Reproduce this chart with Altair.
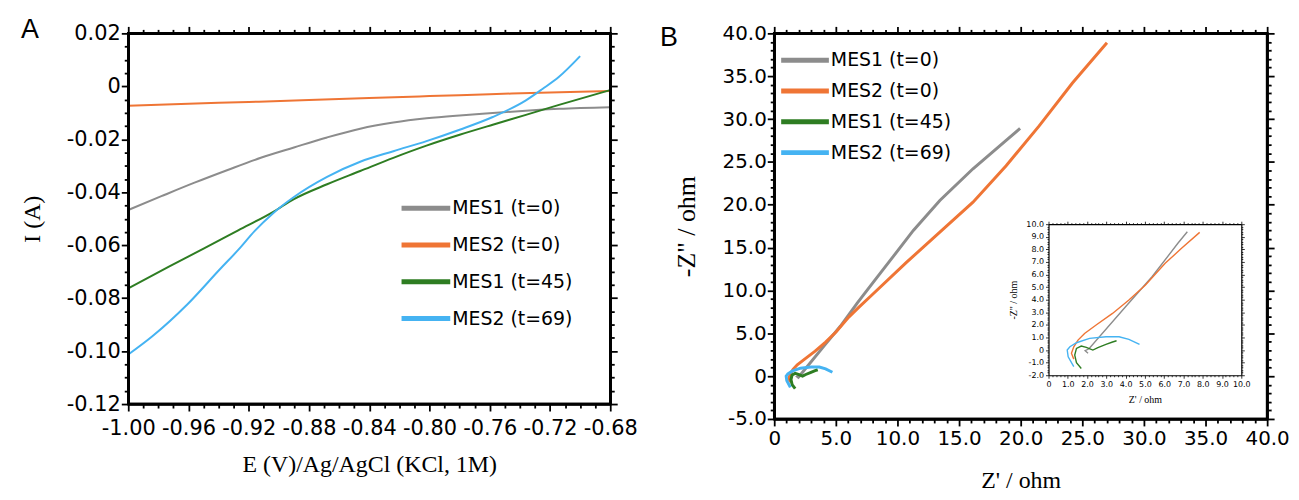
import altair as alt
import pandas as pd

SERIES = ["MES1 (t=0)", "MES2 (t=0)", "MES1 (t=45)", "MES2 (t=69)"]
COLORS = ["#8c8c8c", "#ef7535", "#2e7d22", "#45b3f2"]
PANEL_A_LABEL = ["A"]
PANEL_B_LABEL = ["B"]

# ---------- Panel A : current vs potential ----------
A_E_MES1_T0 = [-1.000, -0.978, -0.956, -0.934, -0.912, -0.890, -0.868, -0.846, -0.824, -0.802,
               -0.780, -0.758, -0.736, -0.714, -0.680]
A_I_MES1_T0 = [-0.0467, -0.0415, -0.0364, -0.0316, -0.0270, -0.0231, -0.0193, -0.0160, -0.0137, -0.0121,
               -0.0110, -0.0101, -0.0092, -0.0085, -0.0079]
A_E_MES2_T0 = [-1.00, -0.96, -0.92, -0.88, -0.84, -0.80, -0.76, -0.72, -0.68]
A_I_MES2_T0 = [-0.0073, -0.0066, -0.0059, -0.0052, -0.0044, -0.0037, -0.0030, -0.0023, -0.0018]
A_E_MES1_T45 = [-1.000, -0.973, -0.950, -0.927, -0.904, -0.890, -0.868, -0.846, -0.824, -0.802,
                -0.780, -0.758, -0.736, -0.714, -0.680]
A_I_MES1_T45 = [-0.0763, -0.0681, -0.0613, -0.0544, -0.0475, -0.0426, -0.0370, -0.0320, -0.0270, -0.0224,
                -0.0183, -0.0145, -0.0108, -0.0070, -0.0014]
A_E_MES2_T69 = [-1.000, -0.984, -0.961, -0.939, -0.927, -0.916, -0.904, -0.890, -0.868, -0.846,
                -0.824, -0.802, -0.780, -0.758, -0.736, -0.725, -0.714, -0.700]
A_I_MES2_T69 = [-0.1013, -0.0944, -0.0825, -0.0690, -0.0618, -0.0546, -0.0480, -0.0418, -0.0342, -0.0285,
                -0.0245, -0.0207, -0.0164, -0.0116, -0.0053, -0.0010, 0.0036, 0.0114]

# ---------- Panel B : Nyquist ----------
B_Z1_MES1_T0 = [2.05, 1.9, 2.1, 4.03, 5.38, 6.72, 7.2, 8.06, 9.68, 11.29, 13.44, 16.13, 18.82, 19.95]
B_Z2_MES1_T0 = [-0.25, -0.05, 0.1, 3.5, 5.84, 8.5, 9.4, 11.0, 14.0, 17.0, 20.5, 24.2, 27.5, 28.9]
B_Z1_MES2_T0 = [1.31, 1.19, 1.31, 1.53, 1.87, 2.47, 3.32, 4.17, 5.03, 6.05, 6.90, 7.84,
                10.75, 13.44, 16.13, 18.82, 21.5, 24.2, 27.0]
B_Z2_MES2_T0 = [-0.72, -0.26, 0.26, 0.79, 1.32, 1.99, 2.91, 3.97, 5.17, 6.89, 8.08, 9.35,
                13.3, 16.8, 20.3, 24.56, 29.2, 34.2, 38.9]
B_Z1_MES1_T45 = [1.70, 1.45, 1.36, 1.45, 1.70, 1.96, 2.30, 2.56, 2.98, 3.32, 3.53]
B_Z2_MES1_T45 = [-1.46, -1.0, -0.4, 0.13, 0.32, 0.21, 0.0, 0.19, 0.45, 0.64, 0.74]
B_Z1_MES2_T69 = [1.31, 1.02, 0.97, 1.11, 1.45, 2.13, 2.98, 3.66, 4.17, 4.72]
B_Z2_MES2_T69 = [-1.32, -0.53, 0.0, 0.26, 0.58, 0.93, 1.06, 1.06, 0.85, 0.45]

# ---------- tick positions ----------
A_X_MAJOR = [round(-1.00 + 0.04 * k, 2) for k in range(9)]
A_X_MINOR = [round(-1.00 + 0.01 * k, 2) for k in range(33) if k % 4]
A_Y_MAJOR = [round(-0.12 + 0.02 * k, 2) for k in range(8)]
A_Y_MINOR = [round(-0.12 + 0.005 * k, 3) for k in range(29) if k % 4]
B_X_MAJOR = [5 * k for k in range(9)]
B_X_MINOR = [k for k in range(41) if k % 5]
B_Y_MAJOR = [-5 + 5 * k for k in range(10)]
B_Y_MINOR = [k for k in range(-5, 41) if k % 5]
IN_X_MAJOR = list(range(11))
IN_X_MINOR = [round(0.2 * k, 1) for k in range(51) if k % 5]
IN_Y_MAJOR = list(range(-2, 11))
IN_Y_MINOR = [round(-2 + 0.2 * k, 1) for k in range(61) if k % 5]


def long_df(parts):
    rows = []
    for name, xs, ys in parts:
        for i, (x, y) in enumerate(zip(xs, ys)):
            rows.append({"series": name, "x": x, "y": y, "i": i})
    return pd.DataFrame(rows)


df_a = long_df([
    (SERIES[0], A_E_MES1_T0, A_I_MES1_T0),
    (SERIES[1], A_E_MES2_T0, A_I_MES2_T0),
    (SERIES[2], A_E_MES1_T45, A_I_MES1_T45),
    (SERIES[3], A_E_MES2_T69, A_I_MES2_T69),
])
df_b = long_df([
    (SERIES[0], B_Z1_MES1_T0, B_Z2_MES1_T0),
    (SERIES[1], B_Z1_MES2_T0, B_Z2_MES2_T0),
    (SERIES[2], B_Z1_MES1_T45, B_Z2_MES1_T45),
    (SERIES[3], B_Z1_MES2_T69, B_Z2_MES2_T69),
])
df_leg = pd.DataFrame({"series": SERIES})

SANS = "DejaVu Sans"
SERIF = "Liberation Serif"


def axis(orient, values, size, label_expr=None, font=20, offset=0, title=None,
         title_size=24, title_pad=10, label_pad=1, dw=2.5, tw=1.8, domain=True):
    kw = dict(
        orient=orient, values=values, ticks=True, tickSize=size,
        tickColor="#000000", tickWidth=tw, tickOpacity=1, domain=domain,
        domainColor="#000000", domainWidth=dw, domainOpacity=1, grid=False,
        offset=offset, zindex=2,
    )
    if label_expr is None:
        kw["labels"] = False
    else:
        kw.update(labelExpr=label_expr, labelFont=SANS, labelFontSize=font,
                  labelColor="black", labelPadding=label_pad, labelOverlap=False,
                  labelFlush=False, labelBound=False)
    if title is None:
        kw["title"] = None
    else:
        kw.update(title=title, titleFont=SERIF, titleFontSize=title_size,
                  titleFontWeight="normal", titleColor="black", titlePadding=title_pad)
    return alt.Axis(**kw)


def ghost(df, xs, ys, ax_x, ax_y, filt=None):
    c = alt.Chart(df).mark_line(strokeOpacity=0).encode(
        x=alt.X("x:Q", scale=xs, axis=ax_x),
        y=alt.Y("y:Q", scale=ys, axis=ax_y),
        detail="series:N",
    )
    if filt:
        c = c.transform_filter(filt)
    return c


def frame(w, h):
    return alt.Chart(pd.DataFrame({"f": [0]})).mark_rect(
        fillOpacity=0, stroke="black", strokeWidth=2.5
    ).encode(x=alt.value(0), x2=alt.value(w), y=alt.value(0), y2=alt.value(h))


color_scale = alt.Scale(domain=SERIES, range=COLORS)


def legend_layers(x0, length, y_first, y_last):
    ys = alt.Y("series:N", axis=None,
               scale=alt.Scale(type="point", domain=SERIES, range=[y_first, y_last], padding=0))
    rules = alt.Chart(df_leg).mark_rule(strokeWidth=5).encode(
        x=alt.value(x0), x2=alt.value(x0 + length), y=ys,
        color=alt.Color("series:N", scale=color_scale, legend=None),
    )
    texts = alt.Chart(df_leg).mark_text(
        align="left", baseline="middle", font=SANS, fontSize=19, color="black"
    ).encode(x=alt.value(x0 + length + 2), y=ys, text="series:N")
    return [rules, texts]


# ---------------- Panel A ----------------
WA, HA = 485, 373
xa = alt.Scale(domain=[-1.0, -0.68], nice=False, zero=False)
ya = alt.Scale(domain=[-0.12, 0.02], nice=False, zero=False)
lab_a_x = "(datum.value < 0 ? '-' : '') + format(abs(datum.value), '.2f')"
lab_a_y = ("abs(datum.value) < 1e-9 ? '0' : "
           "(datum.value < 0 ? '-' : '') + format(abs(datum.value), '.2f')")

a_lines = alt.Chart(df_a).mark_line(strokeWidth=2, interpolate="monotone").encode(
    x=alt.X("x:Q", scale=xa,
            axis=axis("bottom", A_X_MAJOR, 7, lab_a_x, font=21, label_pad=7,
                      title="E (V)/Ag/AgCl (KCl, 1M)", title_pad=14)),
    y=alt.Y("y:Q", scale=ya,
            axis=axis("left", A_Y_MAJOR, 7, lab_a_y, font=21, label_pad=1,
                      title="I (A)", title_pad=22)),
    color=alt.Color("series:N", scale=color_scale, legend=None),
    detail="series:N",
    order="i:Q",
)
a_g1 = ghost(df_a, xa, ya, axis("top", A_X_MAJOR, 7), axis("right", A_Y_MAJOR, 7))
a_g2 = ghost(df_a, xa, ya, axis("bottom", A_X_MINOR, 4, domain=False),
             axis("left", A_Y_MINOR, 4, domain=False))
a_g3 = ghost(df_a, xa, ya, axis("top", A_X_MINOR, 4, domain=False),
             axis("right", A_Y_MINOR, 4, domain=False))
a_letter = alt.Chart(pd.DataFrame({"t": PANEL_A_LABEL})).mark_text(
    font="Liberation Sans", fontSize=27, baseline="middle", align="center", color="black"
).encode(text="t:N", x=alt.value(-99), y=alt.value(-3))

panel_a = alt.layer(a_lines, a_g1, a_g2, a_g3, frame(WA, HA),
                    *legend_layers(275, 49, 176, 287), a_letter).resolve_scale(
    y="independent").resolve_axis(
    x="independent", y="independent").properties(width=WA, height=HA)

# ---------------- Panel B ----------------
WB, HB = 496, 388
xb = alt.Scale(domain=[0, 40], nice=False, zero=False)
yb = alt.Scale(domain=[-5, 40], nice=False, zero=False)
IN_L, IN_R, IN_T, IN_B = 276, 470, 192, 344
xi = alt.Scale(domain=[0, 10], nice=False, zero=False, range=[IN_L, IN_R])
yi = alt.Scale(domain=[-2, 10], nice=False, zero=False, range=[IN_B, IN_T])
lab_1f = ("datum.value == 0 ? '0' : "
          "(datum.value < 0 ? '-' : '') + format(abs(datum.value), '.1f')")
inset_filter = "datum.x <= 8 && datum.y <= 10"

b_lines = alt.Chart(df_b).mark_line(strokeWidth=3).encode(
    x=alt.X("x:Q", scale=xb,
            axis=axis("bottom", B_X_MAJOR, 7, lab_1f, font=20, label_pad=3,
                      title="Z' / ohm", title_pad=20)),
    y=alt.Y("y:Q", scale=yb,
            axis=axis("left", B_Y_MAJOR, 7, lab_1f, font=20, label_pad=1,
                      title='-Z" / ohm', title_size=26, title_pad=23)),
    color=alt.Color("series:N", scale=color_scale, legend=None),
    detail="series:N",
    order="i:Q",
)
b_g1 = ghost(df_b, xb, yb, axis("top", B_X_MAJOR, 7), axis("right", B_Y_MAJOR, 7))
b_g2 = ghost(df_b, xb, yb, axis("bottom", B_X_MINOR, 4, domain=False),
             axis("left", B_Y_MINOR, 4, domain=False))
b_g3 = ghost(df_b, xb, yb, axis("top", B_X_MINOR, 4, domain=False),
             axis("right", B_Y_MINOR, 4, domain=False))

ik = dict(dw=1.2, tw=0.8)
i_lines = alt.Chart(df_b).mark_line(strokeWidth=1.4).encode(
    x=alt.X("x:Q", scale=xi,
            axis=axis("bottom", IN_X_MAJOR, 3, lab_1f, font=8, offset=-(HB - IN_B),
                      label_pad=2, title="Z' / ohm", title_size=10, title_pad=6, **ik)),
    y=alt.Y("y:Q", scale=yi,
            axis=axis("left", IN_Y_MAJOR, 3, lab_1f, font=8, offset=-IN_L,
                      label_pad=2, title='-Z" / ohm', title_size=10, title_pad=7, **ik)),
    color=alt.Color("series:N", scale=color_scale, legend=None),
    detail="series:N",
    order="i:Q",
).transform_filter(inset_filter)
i_g1 = ghost(df_b, xi, yi, axis("top", IN_X_MAJOR, 3, offset=-IN_T, **ik),
             axis("right", IN_Y_MAJOR, 3, offset=-(WB - IN_R), **ik), inset_filter)
i_g2 = ghost(df_b, xi, yi,
             axis("bottom", IN_X_MINOR, 1.5, offset=-(HB - IN_B), domain=False, **ik),
             axis("left", IN_Y_MINOR, 1.5, offset=-IN_L, domain=False, **ik), inset_filter)
i_g3 = ghost(df_b, xi, yi,
             axis("top", IN_X_MINOR, 1.5, offset=-IN_T, domain=False, **ik),
             axis("right", IN_Y_MINOR, 1.5, offset=-(WB - IN_R), domain=False, **ik),
             inset_filter)
b_letter = alt.Chart(pd.DataFrame({"t": PANEL_B_LABEL})).mark_text(
    font="Liberation Sans", fontSize=27, baseline="middle", align="center", color="black"
).encode(text="t:N", x=alt.value(-106), y=alt.value(5))

panel_b = alt.layer(b_lines, b_g1, b_g2, b_g3, i_lines, i_g1, i_g2, i_g3,
                    frame(WB, HB), *legend_layers(7, 48, 27, 120), b_letter).resolve_scale(
    x="independent", y="independent").resolve_axis(
    x="independent", y="independent").properties(width=WB, height=HB)

chart = alt.hconcat(panel_a, panel_b, spacing=19).properties(
    padding={"left": 11, "top": 5, "right": 0, "bottom": 0},
    background="white",
).configure_view(stroke="black", strokeWidth=2.5)

chart.save("out.html", embed_options={"renderer": "svg", "actions": False})
